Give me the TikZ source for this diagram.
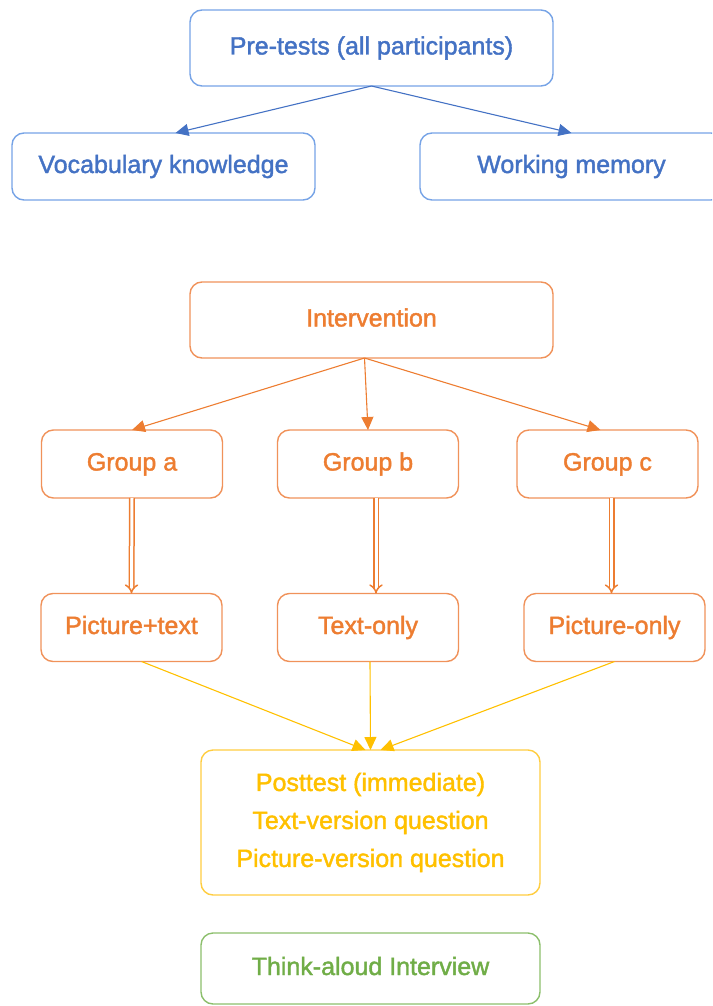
\documentclass[tikz,border=0pt]{standalone}
\usepackage{fontspec}
\setmainfont{Liberation Sans}[FakeBold=1.6]
\usetikzlibrary{arrows.meta,positioning}
\definecolor{sky}{HTML}{4472C4}
\definecolor{skyline}{HTML}{76A3E6}
\definecolor{rust}{HTML}{ED7D31}
\definecolor{rustline}{HTML}{F0925A}
\definecolor{sun}{HTML}{FFC000}
\definecolor{sunline}{HTML}{FFCD40}
\definecolor{leaf}{HTML}{70AD47}
\definecolor{leafline}{HTML}{8CBF6C}

\begin{document}
\begin{tikzpicture}[x=1pt,y=-1pt,
   box/.style={draw,rounded corners=12pt,line width=1.4pt,inner sep=0pt,outer sep=0pt,
      align=center,font=\fontsize{25}{38}\selectfont},
   one/.style={text height=18pt,text depth=5pt},
   wide/.style={one,minimum width=363pt,minimum height=76pt},
   cell/.style={one,minimum width=181pt,minimum height=68pt},
   arr/.style={line width=1.1pt,-{Triangle[length=13pt,width=12pt]}},
   dbl/.style={draw=rust,double=white,double distance=3pt,line width=1.5pt,-{Implies}}]
  \clip (0,0) rectangle (712,1006);
  \useasboundingbox (0,0) rectangle (712,1006);
  % pre-tests
  \node[box,wide,draw=skyline,text=sky] (pre) at (371.5,48) {Pre-tests (all participants)};
  \node[box,one,draw=skyline,text=sky,minimum width=303pt,minimum height=67pt] (vocab) at (163.5,166.5) {Vocabulary knowledge};
  \node[box,one,draw=skyline,text=sky,minimum width=303pt,minimum height=67pt] (work) at (571.5,166.5) {Working memory};
  \draw[arr,sky] (pre.south) -- ([xshift=12pt]vocab.north);
  \draw[arr,sky] (pre.south) -- (work.north);
  % intervention
  \node[box,wide,draw=rustline,text=rust] (inter) at (371.5,320) {Intervention};
  \node[box,cell,draw=rustline,text=rust] (ga) at (132,464) {Group a};
  \node[box,cell,draw=rustline,text=rust] (gb) at (368,464) {Group b};
  \node[box,cell,draw=rustline,text=rust] (gc) at (607.5,464) {Group c};
  \draw[arr,rust] ([xshift=-7pt]inter.south) -- (ga.north);
  \draw[arr,rust] ([xshift=-7pt]inter.south) -- (gb.north);
  \draw[arr,rust] ([xshift=-7pt]inter.south) -- ([xshift=-7pt]gc.north);
  \node[box,cell,draw=rustline,text=rust] (pictext) at (131.5,627.5) {Picture+text};
  \node[box,cell,draw=rustline,text=rust] (textonly) at (368,627.5) {Text-only};
  \node[box,cell,draw=rustline,text=rust] (piconly) at (614.5,627.5) {Picture-only};
  \draw[dbl] (ga.south) -- (pictext.north);
  \draw[dbl] ([xshift=8pt]gb.south) -- ([xshift=8pt]textonly.north);
  \draw[dbl] ([xshift=4pt]gc.south) -- ([xshift=-3pt]piconly.north);
  % posttest
  \node[box,draw=sunline,text=sun,minimum width=339pt,minimum height=145pt] (post) at (370.5,822.5)
     {Posttest (immediate)\\Text-version question\\Picture-version question};
  \draw[arr,sun] ([xshift=10pt]pictext.south) -- ([xshift=-5pt]post.north);
  \draw[arr,sun] ([xshift=2pt]textonly.south) -- (post.north);
  \draw[arr,sun] (piconly.south) -- ([xshift=10pt]post.north);
  \node[box,one,draw=leafline,text=leaf,minimum width=339pt,minimum height=71pt] (think) at (370.5,968.5) {Think-aloud Interview};
\end{tikzpicture}
\end{document}
